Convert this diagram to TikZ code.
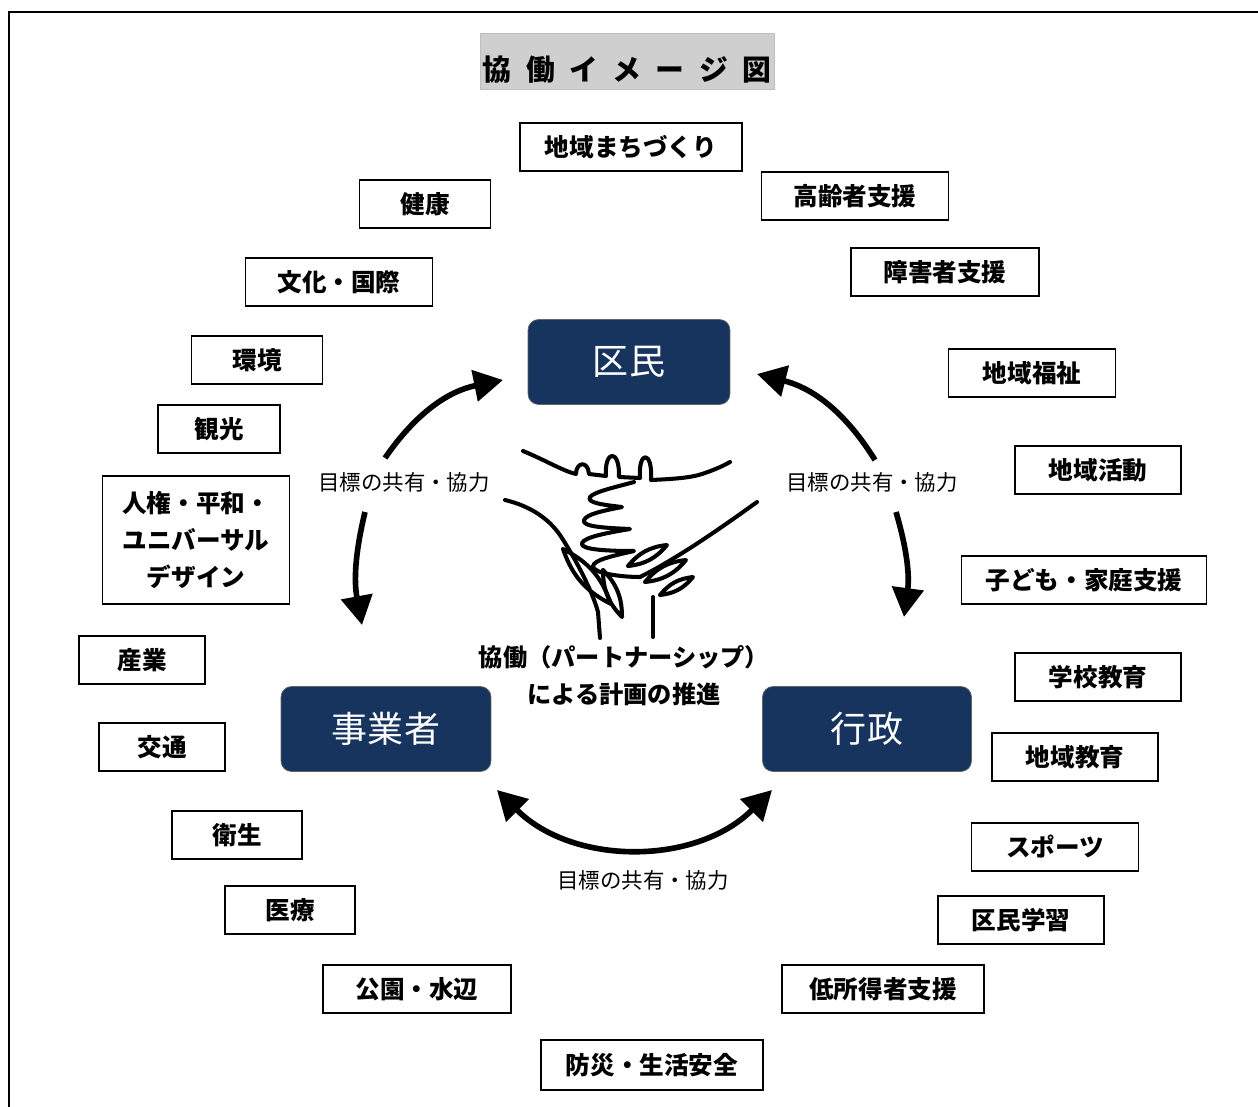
\documentclass[tikz,border=0pt]{standalone}
\usepackage{fontspec}
\setmainfont{Noto Sans CJK JP}
\usetikzlibrary{arrows.meta}
\definecolor{navy}{HTML}{17345E}
\definecolor{titlegray}{HTML}{CFCFCF}

\begin{document}
\begin{tikzpicture}[
  x=0.02cm, y=-0.02cm,
  field/.style={draw, line width=0.9pt, minimum height=0.96cm, inner sep=0pt, align=center, font=\bfseries\fontsize{14}{21}\selectfont},
  actor/.style={draw=black!60, fill=navy, rounded corners=6pt, minimum height=1.7cm, text=white, font=\fontsize{20.5}{24}\selectfont},
  goal/.style={font=\fontsize{12.2}{14}\selectfont},
  arr/.style={line width=3.2pt, -{Triangle[length=0.58cm, width=0.62cm]}},
  arrboth/.style={line width=3.2pt, {Triangle[length=0.58cm, width=0.62cm]}-{Triangle[length=0.58cm, width=0.62cm]}},
  hand/.style={line width=2.3pt, line cap=round, line join=round}]
  \useasboundingbox (0,0) rectangle (1258,1106);
  \draw[line width=1.7pt] (9,1130) |- (1280,12);

  \node[fill=titlegray, draw=black!25, minimum width=5.88cm, minimum height=1.12cm, inner xsep=0pt,
    text height=0.8cm, text depth=0.04cm,
    font=\bfseries\fontsize{16.4}{18}\selectfont] (title) at (627,61)
    {協\hspace{0.5em}働\hspace{0.5em}イ\hspace{0.5em}メ\hspace{0.5em}ー\hspace{0.5em}ジ\hspace{0.5em}図};

  % the three partners
  \node[actor, minimum width=4.04cm] (kumin) at (629,362) {区民};
  \node[actor, minimum width=4.2cm] (jigyo) at (386,729) {事業者};
  \node[actor, minimum width=4.18cm] (gyosei) at (867,729) {行政};

  % fields of activity, clockwise from the top
  \node[field, minimum width=4.44cm] (machi) at (631,147) {地域まちづくり};
  \node[field, minimum width=3.74cm] (korei) at (855,196) {高齢者支援};
  \node[field, minimum width=3.76cm] (shogai) at (945,272) {障害者支援};
  \node[field, minimum width=3.34cm] (fukushi) at (1032,373) {地域福祉};
  \node[field, minimum width=3.32cm] (katsudo) at (1098,470) {地域活動};
  \node[field, minimum width=4.9cm] (kodomo) at (1084,580) {子ども・家庭支援};
  \node[field, minimum width=3.32cm] (gakko) at (1098,677) {学校教育};
  \node[field, minimum width=3.32cm] (chiiki) at (1075,757) {地域教育};
  \node[field, minimum width=3.34cm] (sports) at (1055,847) {スポーツ};
  \node[field, minimum width=3.32cm] (gakushu) at (1021,920) {区民学習};
  \node[field, minimum width=4.04cm] (teishotoku) at (883,989) {低所得者支援};
  \node[field, minimum width=4.44cm, minimum height=1cm] (bosai) at (652,1065) {防災・生活安全};
  \node[field, minimum width=3.76cm] (koen) at (417,989) {公園・水辺};
  \node[field, minimum width=2.6cm] (iryo) at (290,910) {医療};
  \node[field, minimum width=2.6cm] (eisei) at (237,835) {衛生};
  \node[field, minimum width=2.52cm] (kotsu) at (162,747) {交通};
  \node[field, minimum width=2.52cm] (sangyo) at (142,660) {産業};
  \node[field, minimum width=3.74cm, minimum height=2.56cm] (jinken) at (196,540) {人権・平和・\\ユニバーサル\\デザイン};
  \node[field, minimum width=2.44cm] (kanko) at (219,429) {観光};
  \node[field, minimum width=2.62cm] (kankyo) at (257,360) {環境};
  \node[field, minimum width=3.74cm] (bunka) at (339,282) {文化・国際};
  \node[field, minimum width=2.62cm] (kenko) at (425,204) {健康};

  % shared goals between each pair
  \node[goal] (goalL) at (404,482) {目標の共有・協力};
  \node[goal] (goalR) at (872,482) {目標の共有・協力};
  \node[goal] (goalB) at (643,880) {目標の共有・協力};

  \coordinate (lUp) at (385,458);  \coordinate (lUpEnd) at (503,380);
  \coordinate (lDn) at (365,512);  \coordinate (lDnEnd) at (362,625);
  \coordinate (rUp) at (875,460);  \coordinate (rUpEnd) at (757,374);
  \coordinate (rDn) at (896,512);  \coordinate (rDnEnd) at (904,617);
  \coordinate (bL) at (497,790);   \coordinate (bR) at (772,790);

  \draw[arr] (lUp) to[bend left=22] (lUpEnd);
  \draw[arr] (lDn) to[bend right=12] (lDnEnd);
  \draw[arr] (rUp) to[bend right=22] (rUpEnd);
  \draw[arr] (rDn) to[bend left=12] (rDnEnd);
  \draw[arrboth] (bL) to[bend right=45] (bR);

  % joined hands
  \draw[hand] (523,451) .. controls (545,460) and (563,471) .. (576,474)
    .. controls (576,462) and (588,460) .. (589,474) -- (606,476)
    .. controls (604,450) and (620,448) .. (619,477) -- (640,478)
    .. controls (638,450) and (653,450) .. (651,480)
    .. controls (672,479) and (690,478) .. (702,474)
    .. controls (714,470) and (723,466) .. (730,462);
  \draw[hand] (634,482) .. controls (612,488) and (594,492) .. (590,497)
    .. controls (586,503) and (605,505) .. (622,507)
    .. controls (602,511) and (587,514) .. (584,520)
    .. controls (581,527) and (608,528) .. (630,529)
    .. controls (606,533) and (585,537) .. (582,543)
    .. controls (579,550) and (610,551) .. (634,551)
    .. controls (612,556) and (594,560) .. (593,566)
    .. controls (592,573) and (620,577) .. (640,577)
    .. controls (680,557) and (725,525) .. (757,502);
  \draw[hand] (505,500) .. controls (530,506) and (548,518) .. (560,535)
    .. controls (575,558) and (592,590) .. (598,612) -- (600,638);
  \draw[hand] (653,597) -- (653,637);
  \foreach \ax/\ay/\bx/\by in {563/549/611/604, 603/570/622/617, 628/566/667/545, 645/582/686/560, 660/595/693/577}
    \draw[hand] (\ax,\ay) to[bend left=22] (\bx,\by) to[bend left=22] (\ax,\ay);

  \node[font=\bfseries\fontsize{13.8}{21}\selectfont, align=center] (suishin) at (624,676)
    {協働（パートナーシップ）\\による計画の推進};
\end{tikzpicture}
\end{document}
